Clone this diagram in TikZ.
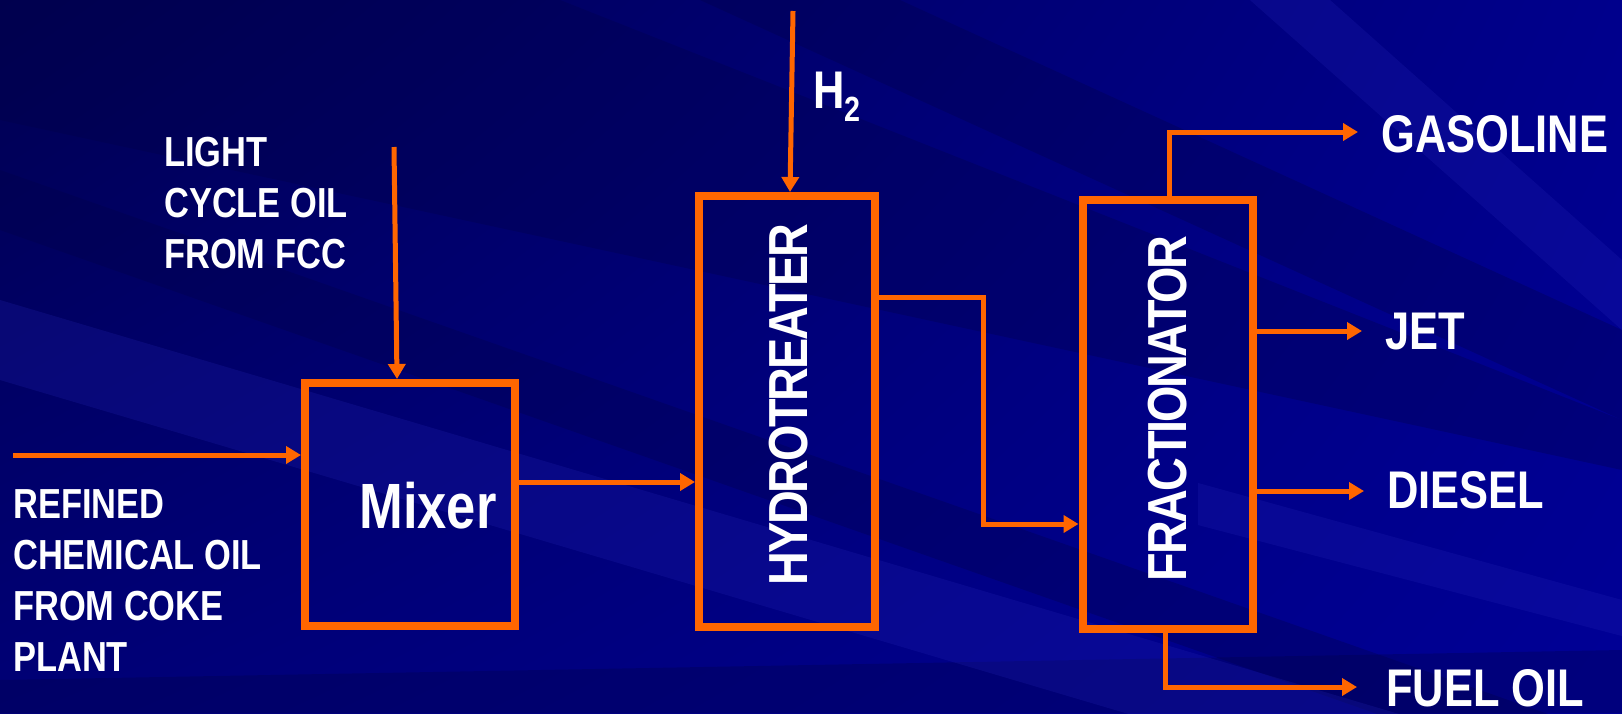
\documentclass[tikz,border=0pt]{standalone}
\usepackage{fontspec}
\usetikzlibrary{arrows.meta,shadings}
\newfontfamily\lblfont[FakeStretch=0.82]{Liberation Sans}
\newfontfamily\vertfont[FakeStretch=0.85,LetterSpace=-4]{Liberation Sans}
\definecolor{pipeorange}{RGB}{255,102,0}
\definecolor{bgdark}{RGB}{0,0,70}
\definecolor{bglight}{RGB}{40,40,185}
\definecolor{bgul}{RGB}{0,0,82}
\definecolor{bgur}{RGB}{0,0,140}
\definecolor{bgll}{RGB}{0,0,118}
\definecolor{bglr}{RGB}{0,0,150}
\tikzset{
  unitbox/.style={draw=pipeorange, line width=8pt, inner sep=0pt},
  flowline/.style={draw=pipeorange, line width=5pt,
    -{Triangle[length=15pt,width=17pt]}},
  smalllbl/.style={text=white, inner sep=0pt, align=left,
    font=\lblfont\bfseries\fontsize{42}{51}\selectfont},
  biglbl/.style={text=white, inner sep=0pt,
    font=\lblfont\bfseries\fontsize{53}{60}\selectfont},
  vertlbl/.style={text=white, inner sep=0pt, rotate=90,
    font=\vertfont\bfseries\fontsize{55}{60}\selectfont},
  streakdark/.style={fill=bgdark, fill opacity=0.3},
  streaklight/.style={fill=bglight, fill opacity=0.22},
}
\begin{document}
\begin{tikzpicture}[x=1pt,y=-1pt]
\useasboundingbox (0,0) rectangle (1622,713);

% backdrop: navy gradient with diagonal streaks
\shade[upper left=bgul, upper right=bgur, lower left=bgll, lower right=bglr]
  (0,0) rectangle (1622,713);
\fill[streakdark] (0,0) -- (560,0) -- (1622,420) -- (1622,470) -- (0,120) -- cycle;
\fill[streakdark] (0,170) -- (0,230) -- (1622,800) -- (1622,740) -- cycle;
\fill[streakdark] (700,0) -- (900,0) -- (1622,330) -- (1622,420) -- cycle;
\fill[streakdark] (0,680) -- (1622,650) -- (1622,713) -- (0,713) -- cycle;
\fill[streaklight] (0,300) -- (0,380) -- (1622,860) -- (1622,780) -- cycle;
\fill[streaklight] (1198,483) -- (1622,600) -- (1622,636) -- (1198,525) -- cycle;
\fill[streaklight] (1250,0) -- (1330,0) -- (1622,260) -- (1622,330) -- cycle;

% process units
\node[unitbox, minimum width=210pt, minimum height=243pt] (mixer) at (410,504.5) {};
\node[unitbox, minimum width=176pt, minimum height=431pt] (hydro) at (787,411.5) {};
\node[unitbox, minimum width=170pt, minimum height=429pt] (frac) at (1167.5,414.3) {};

\node[biglbl, font=\lblfont\bfseries\fontsize{64}{70}\selectfont, anchor=base]
  (mixerlbl) at (428,528) {Mixer};
\node[vertlbl] (hydrolbl) at (789,404.5) {HYDROTREATER};
\node[vertlbl] (fraclbl) at (1168,408.3) {FRACTIONATOR};

% feed labels
\node[smalllbl, anchor=north west] (lcolbl) at (164,137) {LIGHT\\CYCLE OIL\\FROM FCC};
\node[smalllbl, anchor=north west] (rcolbl) at (13,489)
  {REFINED\\CHEMICAL OIL\\FROM COKE\\PLANT};
\node[biglbl, anchor=base west] (h2lbl) at (813,108.3)
  {H\raisebox{-13.4pt}{\fontsize{35}{40}\selectfont 2}};

% product labels
\node[biglbl, anchor=base west] (gaslbl) at (1381,152.7) {GASOLINE};
\node[biglbl, anchor=base west] (jetlbl) at (1385,349) {JET};
\node[biglbl, anchor=base west] (dsllbl) at (1387,508.3) {DIESEL};
\node[biglbl, anchor=base west] (fuellbl) at (1386,706.5) {FUEL OIL};

% stream end points
\coordinate (rcoin) at (13,455);
\coordinate (lcoin) at (394,147);
\coordinate (lcox) at (397,0);
\coordinate (mh) at (0,482);
\coordinate (h2in) at (793,11);
\coordinate (h2x) at (790,0);
\coordinate (hfa) at (0,297);
\coordinate (hfb) at (983,524);
\coordinate (gasx) at (1169,0);
\coordinate (gasout) at (1358,132);
\coordinate (jetout) at (1362,331);
\coordinate (dslout) at (1364,491);
\coordinate (fuelx) at (1165,0);
\coordinate (fuelout) at (1357,687);

% streams
\draw[flowline] (rcoin) -- (rcoin -| mixer.west);
\draw[flowline] (lcoin) -- (lcox |- mixer.north);
\draw[flowline] (mixer.east |- mh) -- (hydro.west |- mh);
\draw[flowline] (h2in) -- (h2x |- hydro.north);
\draw[flowline] (hydro.east |- hfa) -| (hfb) -- (frac.west |- hfb);
\draw[flowline] (gasx |- frac.north) |- (gasout);
\draw[flowline] (frac.east |- jetout) -- (jetout);
\draw[flowline] (frac.east |- dslout) -- (dslout);
\draw[flowline] (fuelx |- frac.south) |- (fuelout);
\end{tikzpicture}
\end{document}
